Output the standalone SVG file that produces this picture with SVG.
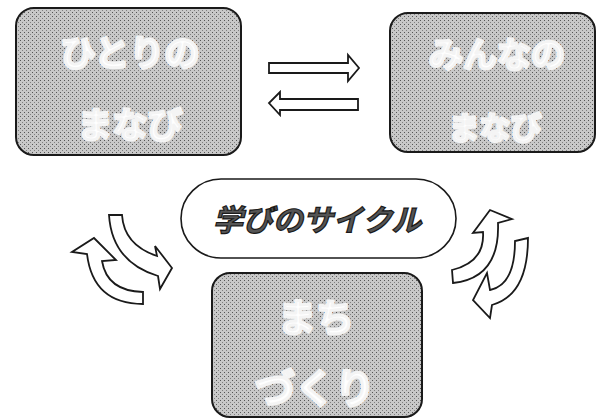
<svg xmlns="http://www.w3.org/2000/svg" width="597" height="419" viewBox="0 0 597 419">
<defs>
<pattern id="stip" width="4" height="4" patternUnits="userSpaceOnUse">
<rect width="4" height="4" fill="#c8c8c8"/>
<rect x="0" y="0" width="1" height="1" fill="#555"/>
<rect x="2" y="2" width="1" height="1" fill="#808080"/>
</pattern>
</defs>
<style>
.box{fill:url(#stip);stroke:#1a1a1a;stroke-width:2}
.bt{font-family:"Noto Sans CJK JP","Noto Sans",sans-serif;font-weight:700;fill:#ffffff;stroke:#f4f4f4;stroke-width:3;stroke-linejoin:round;text-anchor:middle;dominant-baseline:central}
.oval{fill:#ffffff;stroke:#1a1a1a;stroke-width:1.6}
.ot{font-family:"Noto Sans CJK JP","Noto Sans",sans-serif;font-weight:700;font-size:30px;fill:#555555;stroke:#1a1a1a;stroke-width:1.2;text-anchor:middle;dominant-baseline:central;font-style:italic}
.arr{fill:#ffffff;stroke:#1a1a1a;stroke-width:1.8;stroke-linejoin:miter}
</style>
<rect width="597" height="419" fill="#ffffff"/>
<g id="hitori">
<rect class="box" x="16" y="8" width="225" height="147" rx="18"/>
<text class="bt" x="130" y="50" font-size="35">ひとりの</text>
<text class="bt" x="130" y="122" font-size="35">まなび</text>
</g>
<g id="minna">
<rect class="box" x="390" y="13" width="205" height="139" rx="18"/>
<text class="bt" x="497" y="52" font-size="34">みんなの</text>
<text class="bt" x="495" y="125" font-size="31">まなび</text>
</g>
<g id="cycle">
<rect class="oval" x="181" y="179" width="275" height="79" rx="40"/>
<text class="ot" x="317" y="218">学びのサイクル</text>
</g>
<g id="machi">
<rect class="box" x="212" y="273" width="210" height="144" rx="18"/>
<text class="bt" x="316" y="314" font-size="38">まち</text>
<text class="bt" x="315" y="386" font-size="40">づくり</text>
</g>
<g id="connectors">
<path class="arr" d="M269,63 L348,63 L348,55 L359,68 L348,81 L348,73 L269,73 Z"/>
<path class="arr" d="M358,99 L280,99 L280,92 L269,103 L280,115 L280,110 L358,110 Z"/>
<path class="arr" d="M109,215 L122,215 Q124,245 157,256 L155,246 L172,268 L160,289 L158,276 Q112,262 109,215 Z"/>
<path class="arr" d="M143,292 L143,304 Q93,304 87,254 L72,252 L94,238 L116,260 L102,261 Q107,291 143,292 Z"/>
<path class="arr" d="M452,270 Q485,262 483,232 L473,233 L490,210 L512,219 L498,223 Q500,278 453,283 Z"/>
<path class="arr" d="M515,241 Q515,285 490,290 L487,273 L473,300 L490,318 L492,305 Q528,295 528,238 Z"/>
</g>
</svg>
